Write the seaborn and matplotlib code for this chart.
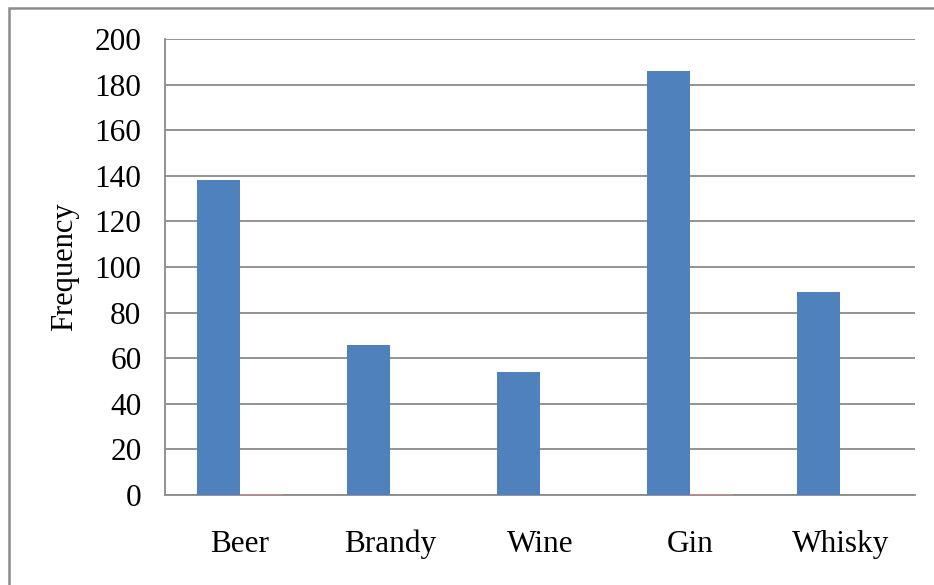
import pandas as pd
import matplotlib
matplotlib.use('Agg')
import matplotlib.pyplot as plt
import seaborn as sns
from matplotlib.patches import Rectangle

# Data
drinks = ['Beer', 'Brandy', 'Wine', 'Gin', 'Whisky']
frequency = [138, 66, 54, 186, 89]
# second (almost empty) series, only a sliver shows at Beer and Gin
other = [0.6, 0, 0, 0.6, 0]
yticks = [0, 20, 40, 60, 80, 100, 120, 140, 160, 180, 200]

sns.set_style('white')
plt.rcParams['font.family'] = ['Liberation Serif', 'DejaVu Serif']
plt.rcParams['text.color'] = 'black'
plt.rcParams['xtick.color'] = 'black'
plt.rcParams['ytick.color'] = 'black'
plt.rcParams['axes.labelcolor'] = 'black'

df = pd.DataFrame({
    'drink': drinks * 2,
    'series': ['Frequency'] * len(drinks) + ['Other'] * len(drinks),
    'value': frequency + other,
})

fig = plt.figure(figsize=(9.34, 5.85), dpi=100)
ax = fig.add_axes([0.1767, 0.1538, 0.803, 0.7795])

sns.barplot(data=df, x='drink', y='value', hue='series',
            palette=['#4F81BD', '#D08a88'], width=0.573, gap=0,
            saturation=1, legend=False, linewidth=0, ax=ax, zorder=3)

ax.set_ylim(0, 200)
ax.set_xlim(-0.5, len(drinks) - 0.5)
ax.set_yticks(yticks)
ax.yaxis.grid(True, color='#8a8a8a', linewidth=1.3, zorder=0)
ax.set_axisbelow(True)

for side in ['top', 'right']:
    ax.spines[side].set_visible(False)
for side in ['left', 'bottom']:
    ax.spines[side].set_color('#8a8a8a')
    ax.spines[side].set_linewidth(1.3)

ax.tick_params(axis='y', length=0, pad=17, labelsize=22.5)
ax.tick_params(axis='x', length=0, pad=25, labelsize=22.5)
ax.set_xlabel('')
ax.set_ylabel('Frequency', fontsize=22, labelpad=11)

# chart border (cut off at right and bottom in the original)
fig.patches.append(Rectangle((9 / 934, -0.1), 1.2, (585 - 8) / 585 + 0.1,
                             transform=fig.transFigure, fill=False,
                             edgecolor='#8c8c8c', linewidth=1.8))

fig.savefig('out.png', dpi=100, facecolor='white')
